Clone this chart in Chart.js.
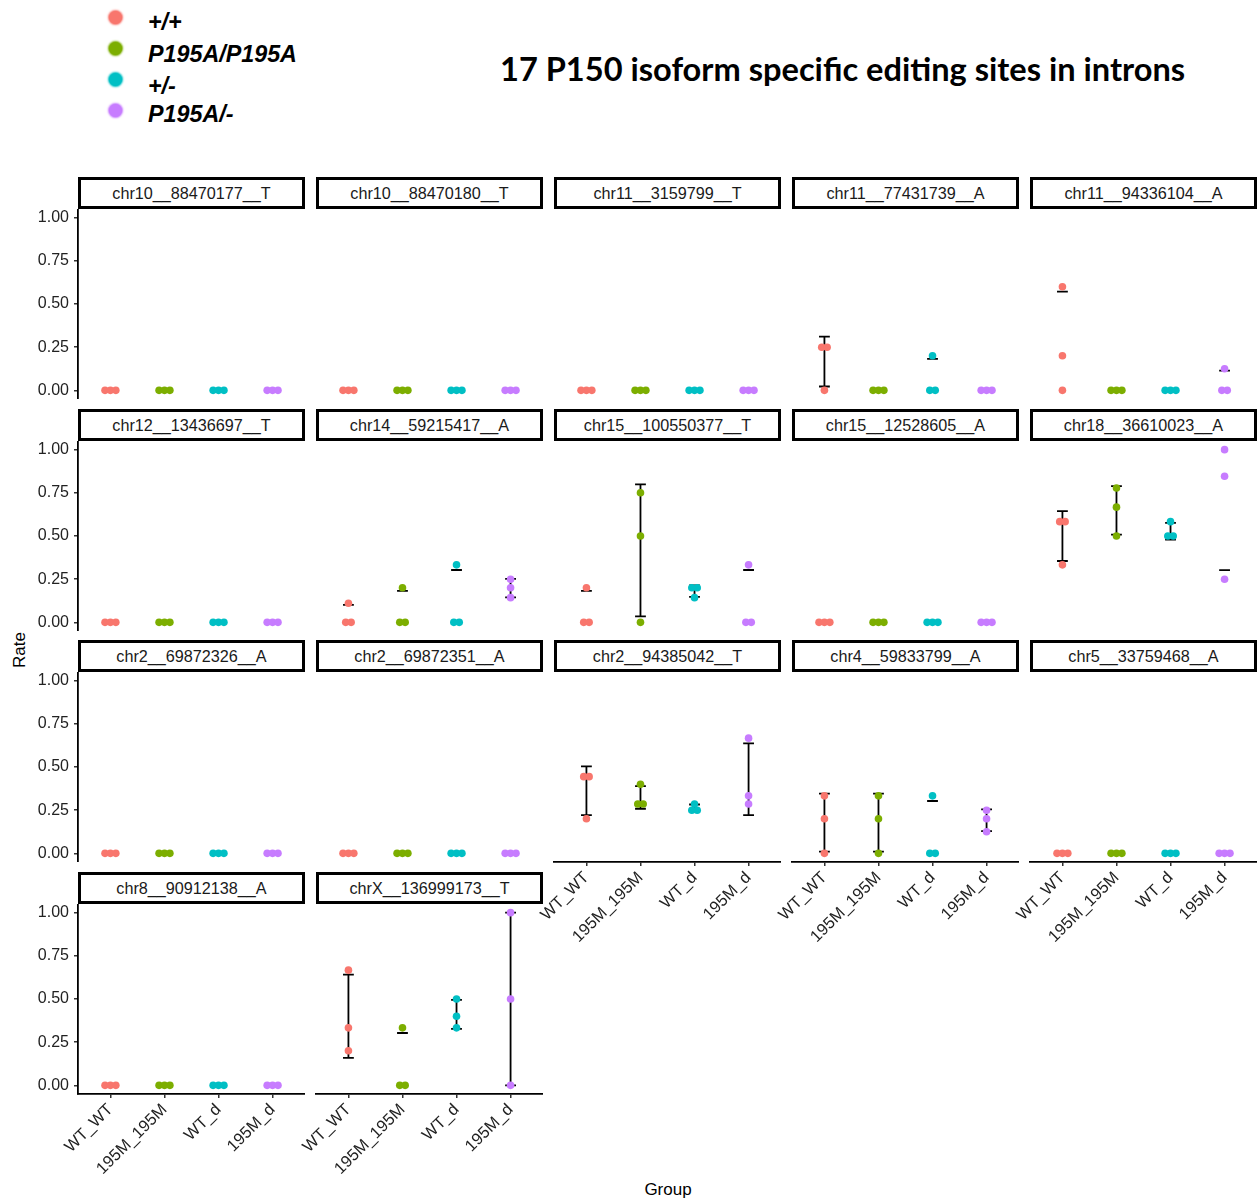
<!DOCTYPE html>
<html>
<head>
<meta charset="utf-8">
<script src="https://cdn.jsdelivr.net/npm/chart.js@4.4.1/dist/chart.umd.min.js"></script>
<style>
  body { margin: 0; width: 1258px; height: 1201px; background: #fff; position: relative; overflow: hidden;
         font-family: "Liberation Sans", Arial, sans-serif; }
  .strip { position: absolute; box-sizing: border-box; border: 3px solid #000; background: #fff;
           height: 32px; width: 227px; font-size: 16.2px; line-height: 26px; color: #1a1a1a; text-align: center; }
  .panel { position: absolute; }
  .legdot { position: absolute; width: 13px; height: 13px; border-radius: 50%; }
  .leglab { position: absolute; left: 148px; font-weight: bold; font-style: italic; font-size: 23.3px; color: #000; white-space: nowrap; }
  #title { position: absolute; left: 500px; top: 49px; font-family: Lato, "Open Sans", sans-serif; font-weight: 700;
           font-size: 32.6px; color: #000; white-space: nowrap; }
  #ytitle { position: absolute; left: 20px; top: 650px; transform: translate(-50%, -50%) rotate(-90deg); font-size: 17px; }
  #xtitle { position: absolute; left: 668px; top: 1190px; transform: translate(-50%, -50%); font-size: 17px; }
</style>
</head>
<body>
<div id="legend"></div>
<div id="title">17 P150 isoform specific editing sites in introns</div>
<div id="ytitle">Rate</div>
<div id="xtitle">Group</div>
<div id="panels"></div>
<script>
// groups on the x axis and the genotype each one stands for
const groups = ["WT_WT", "195M_195M", "WT_d", "195M_d"];
const genotypes = ["+/+", "P195A/P195A", "+/-", "P195A/-"];
const colors = ["#F8766D", "#7CAE00", "#00BFC4", "#C77CFF"];
const yTicks = [0, 0.25, 0.5, 0.75, 1];

const siteNames = [
  "chr10__88470177__T", "chr10__88470180__T", "chr11__3159799__T", "chr11__77431739__A", "chr11__94336104__A",
  "chr12__13436697__T", "chr14__59215417__A", "chr15__100550377__T", "chr15__12528605__A", "chr18__36610023__A",
  "chr2__69872326__A", "chr2__69872351__A", "chr2__94385042__T", "chr4__59833799__A", "chr5__33759468__A",
  "chr8__90912138__A", "chrX__136999173__T"
];

// editing rate per site: one row per group, three animals each
const chr10_88470177_T = [[0, 0, 0], [0, 0, 0], [0, 0, 0], [0, 0, 0]];
const chr10_88470180_T = [[0, 0, 0], [0, 0, 0], [0, 0, 0], [0, 0, 0]];
const chr11_3159799_T = [[0, 0, 0], [0, 0, 0], [0, 0, 0], [0, 0, 0]];
const chr11_77431739_A = [[0.25, 0.25, 0], [0, 0, 0], [0.2, 0, 0], [0, 0, 0]];
const chr11_94336104_A = [[0.6, 0.2, 0], [0, 0, 0], [0, 0, 0], [0.125, 0, 0]];
const chr12_13436697_T = [[0, 0, 0], [0, 0, 0], [0, 0, 0], [0, 0, 0]];
const chr14_59215417_A = [[0.111, 0, 0], [0.2, 0, 0], [0.333, 0, 0], [0.25, 0.2, 0.143]];
const chr15_100550377_T = [[0.2, 0, 0], [0.75, 0.5, 0], [0.2, 0.2, 0.143], [0.333, 0, 0]];
const chr15_12528605_A = [[0, 0, 0], [0, 0, 0], [0, 0, 0], [0, 0, 0]];
const chr18_36610023_A = [[0.583, 0.583, 0.333], [0.778, 0.667, 0.5], [0.583, 0.5, 0.5], [1, 0.846, 0.25]];
const chr2_69872326_A = [[0, 0, 0], [0, 0, 0], [0, 0, 0], [0, 0, 0]];
const chr2_69872351_A = [[0, 0, 0], [0, 0, 0], [0, 0, 0], [0, 0, 0]];
const chr2_94385042_T = [[0.444, 0.444, 0.2], [0.4, 0.286, 0.286], [0.286, 0.25, 0.25], [0.667, 0.333, 0.286]];
const chr4_59833799_A = [[0.333, 0.2, 0], [0.333, 0.2, 0], [0.333, 0, 0], [0.25, 0.2, 0.125]];
const chr5_33759468_A = [[0, 0, 0], [0, 0, 0], [0, 0, 0], [0, 0, 0]];
const chr8_90912138_A = [[0, 0, 0], [0, 0, 0], [0, 0, 0], [0, 0, 0]];
const chrX_136999173_T = [[0.667, 0.333, 0.2], [0.333, 0, 0], [0.5, 0.4, 0.333], [1, 0.5, 0]];

const siteRates = [
  chr10_88470177_T, chr10_88470180_T, chr11_3159799_T, chr11_77431739_A, chr11_94336104_A,
  chr12_13436697_T, chr14_59215417_A, chr15_100550377_T, chr15_12528605_A, chr18_36610023_A,
  chr2_69872326_A, chr2_69872351_A, chr2_94385042_T, chr4_59833799_A, chr5_33759468_A,
  chr8_90912138_A, chrX_136999173_T
];

// layout
const nCols = 5;
const plotW = 227, plotH = 190, colStep = 238, firstLeft = 78;
const stripTops = [177, 409, 640, 872];
const yAxisSpace = 60, xAxisSpace = 95;

// legend
const legendDotY = [17, 48, 79, 110];
const legendLabY = [9, 41, 73, 101];
const legend = document.getElementById("legend");
genotypes.forEach((g, i) => {
  const dot = document.createElement("div");
  dot.className = "legdot";
  dot.style.left = (115 - 6.5) + "px";
  dot.style.top = (legendDotY[i] - 6.5) + "px";
  dot.style.background = colors[i];
  dot.style.boxShadow = "0 0 2px 1px " + colors[i];
  legend.appendChild(dot);
  const lab = document.createElement("div");
  lab.className = "leglab";
  lab.style.top = legendLabY[i] + "px";
  lab.textContent = g;
  legend.appendChild(lab);
});

// stack equal values side by side, like a centred dot plot
function dotOffsets(vals) {
  return vals.map((v, i) => {
    const same = [];
    vals.forEach((w, j) => { if (Math.abs(w - v) < 0.01) same.push(j); });
    const k = same.indexOf(i);
    return (k - (same.length - 1) / 2) * 0.1;
  });
}

function meanSd(vals) {
  const m = vals.reduce((a, b) => a + b, 0) / vals.length;
  const v = vals.reduce((a, b) => a + (b - m) * (b - m), 0) / (vals.length - 1);
  return [m, Math.sqrt(v)];
}

// mean +/- sd bars; a side that leaves [0, 1] keeps only the other cap
function errorSegments(rates) {
  const pts = [];
  const gap = { x: null, y: null };
  const cap = 0.1;
  rates.forEach((vals, g) => {
    const [m, sd] = meanSd(vals);
    if (sd < 1e-9) return;
    const x = g + 1;
    const lo = m - sd, hi = m + sd;
    const okLo = lo >= -1e-6, okHi = hi <= 1 + 1e-6;
    if (okLo && okHi) {
      pts.push({ x: x, y: lo }, { x: x, y: hi }, gap);
    }
    if (okLo) pts.push({ x: x - cap, y: lo }, { x: x + cap, y: lo }, gap);
    if (okHi) pts.push({ x: x - cap, y: hi }, { x: x + cap, y: hi }, gap);
  });
  return pts;
}

function zeroPad(scale) {
  scale.paddingTop = 0; scale.paddingBottom = 0; scale.paddingLeft = 0; scale.paddingRight = 0;
}

const panels = document.getElementById("panels");
siteNames.forEach((name, i) => {
  const r = Math.floor(i / nCols), c = i % nCols;
  const plotLeft = firstLeft + c * colStep;
  const plotTop = stripTops[r] + 32;
  const isBottom = i + nCols >= siteNames.length;
  const isLeft = c === 0;

  const strip = document.createElement("div");
  strip.className = "strip";
  strip.style.left = plotLeft + "px";
  strip.style.top = stripTops[r] + "px";
  strip.textContent = name;
  panels.appendChild(strip);

  const box = document.createElement("div");
  box.className = "panel";
  box.style.left = (plotLeft - yAxisSpace) + "px";
  box.style.top = plotTop + "px";
  const canvas = document.createElement("canvas");
  canvas.width = plotW + yAxisSpace;
  canvas.height = plotH + (isBottom ? xAxisSpace : 0);
  box.appendChild(canvas);
  panels.appendChild(box);

  const rates = siteRates[i];
  const datasets = groups.map((g, gi) => {
    const offs = dotOffsets(rates[gi]);
    return {
      label: genotypes[gi],
      data: rates[gi].map((v, k) => ({ x: gi + 1 + offs[k], y: v })),
      backgroundColor: colors[gi],
      borderWidth: 0,
      pointRadius: 3.8
    };
  });
  datasets.push({
    label: "sd",
    data: errorSegments(rates),
    showLine: true,
    spanGaps: false,
    borderColor: "#000",
    borderWidth: 1.8,
    pointRadius: 0
  });

  new Chart(canvas, {
    type: "scatter",
    data: { datasets: datasets },
    options: {
      responsive: false,
      animation: false,
      layout: { autoPadding: false, padding: { left: isLeft ? 0 : yAxisSpace, right: 0, top: 0, bottom: 0 } },
      plugins: { legend: { display: false }, tooltip: { enabled: false } },
      scales: {
        x: {
          type: "linear",
          min: 0.4,
          max: 4.6,
          display: isBottom,
          afterBuildTicks: (s) => { s.ticks = groups.map((g, k) => ({ value: k + 1 })); },
          afterFit: (s) => { s.height = isBottom ? xAxisSpace : 0; zeroPad(s); },
          border: { display: true, color: "#000", width: 1.8 },
          grid: { drawOnChartArea: false, drawTicks: true, tickLength: 4, color: "#333", lineWidth: 1.5 },
          ticks: {
            autoSkip: false,
            minRotation: 45,
            maxRotation: 45,
            padding: 2,
            color: "#222",
            font: { family: "Liberation Sans", size: 16.5 },
            callback: (v) => groups[Math.round(v) - 1]
          }
        },
        y: {
          min: -0.05,
          max: 1.05,
          display: isLeft,
          afterBuildTicks: (s) => { s.ticks = yTicks.map((v) => ({ value: v })); },
          afterFit: (s) => { s.width = isLeft ? yAxisSpace : 0; zeroPad(s); },
          border: { display: true, color: "#000", width: 1.8 },
          grid: { drawOnChartArea: false, drawTicks: true, tickLength: 4, color: "#333", lineWidth: 1.5 },
          ticks: {
            padding: 5,
            color: "#222",
            font: { family: "Liberation Sans", size: 16 },
            callback: (v) => v.toFixed(2)
          }
        }
      }
    }
  });
});
</script>
</body>
</html>
